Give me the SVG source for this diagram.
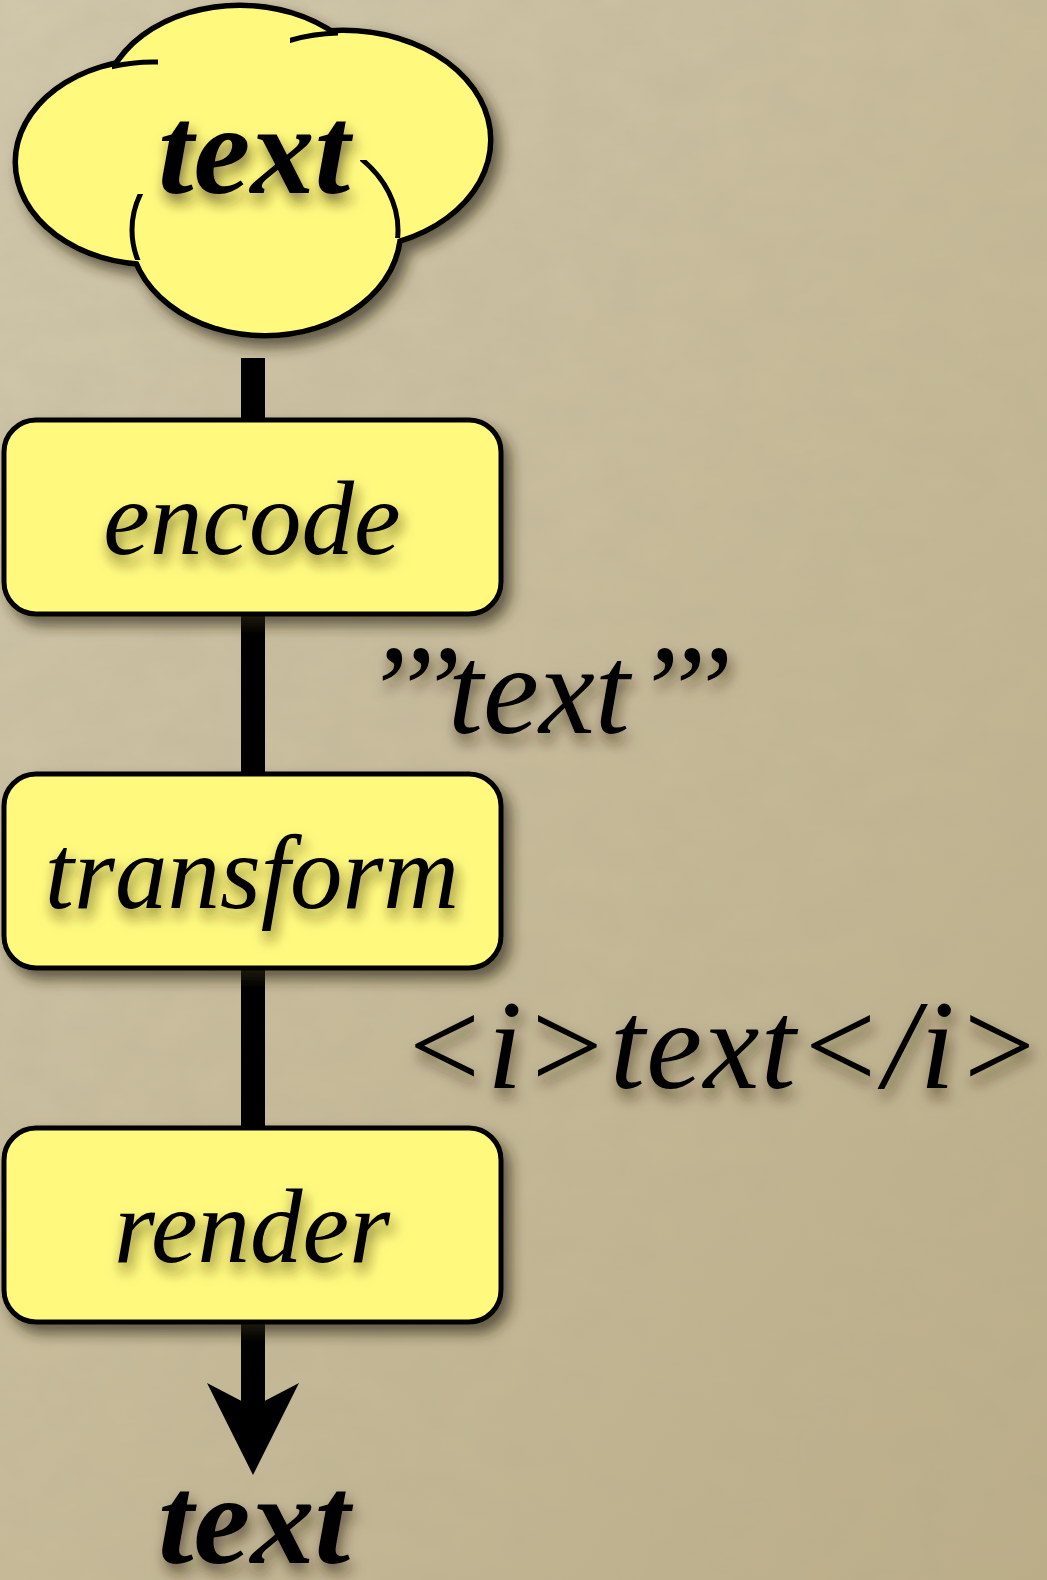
<svg xmlns="http://www.w3.org/2000/svg" width="1047" height="1580" viewBox="0 0 1047 1580">
  <defs>
    <linearGradient id="bg" x1="0" y1="0" x2="1" y2="1">
      <stop offset="0" stop-color="#D2C9AD"/>
      <stop offset="0.5" stop-color="#C7BB99"/>
      <stop offset="1" stop-color="#BBAE87"/>
    </linearGradient>
    <filter id="noise" x="0" y="0" width="100%" height="100%">
      <feTurbulence type="fractalNoise" baseFrequency="0.02 0.03" numOctaves="3" seed="4" result="n"/>
      <feColorMatrix in="n" type="matrix" values="0 0 0 0 0.45  0 0 0 0 0.40  0 0 0 0 0.28  0 0 0 0.25 0"/>
    </filter>
    <filter id="shadow" x="-20%" y="-20%" width="150%" height="150%">
      <feDropShadow dx="7" dy="9" stdDeviation="7" flood-color="#2a2410" flood-opacity="0.65"/>
    </filter>
    <filter id="tshadow" x="-20%" y="-30%" width="140%" height="170%">
      <feDropShadow dx="3" dy="9" stdDeviation="7" flood-color="#2a2410" flood-opacity="0.6"/>
    </filter>
    <marker id="arrow" markerUnits="userSpaceOnUse" markerWidth="92" markerHeight="92" viewBox="0 0 92 92" refX="24" refY="46" orient="auto">
      <path d="M0,0 L92,46 L0,92 L24,46 Z" fill="#000"/>
    </marker>
    <clipPath id="hook1"><rect x="112" y="48" width="46" height="24"/></clipPath>
    <clipPath id="hook2"><rect x="290" y="24" width="48" height="26"/></clipPath>
    <clipPath id="hook3"><rect x="124" y="194" width="26" height="66"/></clipPath>
    <clipPath id="hook4"><rect x="360" y="160" width="50" height="78"/></clipPath>
    <style>
      .fill { fill: #FFFA7E; }
      .box { fill: #FFFA7E; stroke: #000; stroke-width: 5; }
      .outline { fill: none; stroke: #000; stroke-width: 11; }
      .hook { fill: none; stroke: #000; stroke-width: 5; }
      .boxtext { font-family: "Liberation Serif", "Times New Roman", serif; font-style: italic; font-size: 105px; fill: #000; }
      .label { font-family: "Liberation Serif", "Times New Roman", serif; font-style: italic; font-size: 126px; fill: #000; }
      .bold { font-family: "Liberation Serif", "Times New Roman", serif; font-style: italic; font-weight: bold; font-size: 128px; fill: #000; }
      .conn { stroke: #000; stroke-width: 24; fill: none; }
    </style>
  </defs>

  <rect x="0" y="0" width="1047" height="1580" fill="url(#bg)"/>
  <rect x="0" y="0" width="1047" height="1580" filter="url(#noise)"/>

  <g id="connectors">
    <line class="conn" x1="253" y1="358" x2="253" y2="422"/>
    <line class="conn" x1="253" y1="612" x2="253" y2="776"/>
    <line class="conn" x1="253" y1="966" x2="253" y2="1130"/>
    <line class="conn" x1="253" y1="1320" x2="253" y2="1407" marker-end="url(#arrow)"/>
  </g>

  <g id="cloud">
    <g filter="url(#shadow)">
      <ellipse class="outline" cx="240" cy="108" rx="135" ry="100"/>
      <ellipse class="outline" cx="153" cy="162" rx="135" ry="100"/>
      <ellipse class="outline" cx="343" cy="140" rx="145" ry="107"/>
      <ellipse class="outline" cx="265" cy="230" rx="133" ry="103"/>
      <ellipse class="fill" cx="240" cy="108" rx="135" ry="100"/>
      <ellipse class="fill" cx="153" cy="162" rx="135" ry="100"/>
      <ellipse class="fill" cx="343" cy="140" rx="145" ry="107"/>
      <ellipse class="fill" cx="265" cy="230" rx="133" ry="103"/>
    </g>
    <ellipse class="hook" cx="153" cy="162" rx="135" ry="100" clip-path="url(#hook1)"/>
    <ellipse class="hook" cx="343" cy="140" rx="145" ry="107" clip-path="url(#hook2)"/>
    <ellipse class="hook" cx="265" cy="230" rx="133" ry="103" clip-path="url(#hook3)"/>
    <ellipse class="hook" cx="265" cy="230" rx="133" ry="103" clip-path="url(#hook4)"/>
    <text class="bold" x="254" y="193" text-anchor="middle" filter="url(#tshadow)">text</text>
  </g>

  <g id="encode">
    <rect class="box" x="4" y="420" width="497" height="194" rx="32" filter="url(#shadow)"/>
    <text class="boxtext" x="252" y="554" text-anchor="middle" filter="url(#tshadow)">encode</text>
  </g>

  <g id="transform">
    <rect class="box" x="4" y="774" width="497" height="194" rx="32" filter="url(#shadow)"/>
    <text class="boxtext" x="252" y="908" text-anchor="middle" filter="url(#tshadow)">transform</text>
  </g>

  <g id="render">
    <rect class="box" x="4" y="1128" width="497" height="194" rx="32" filter="url(#shadow)"/>
    <text class="boxtext" x="252" y="1262" text-anchor="middle" filter="url(#tshadow)">render</text>
  </g>

  <g id="label-wiki">
    <text class="label" y="733" filter="url(#tshadow)"><tspan x="364 391 418">’’’</tspan><tspan x="448">text</tspan><tspan x="635 662 689">’’’</tspan></text>
  </g>

  <g id="label-html">
    <text class="label" x="401" y="1088" textLength="640" lengthAdjust="spacing" filter="url(#tshadow)">&lt;i&gt;text&lt;/i&gt;</text>
  </g>

  <g id="output">
    <text class="bold" x="254" y="1563" text-anchor="middle" filter="url(#tshadow)">text</text>
  </g>
</svg>
